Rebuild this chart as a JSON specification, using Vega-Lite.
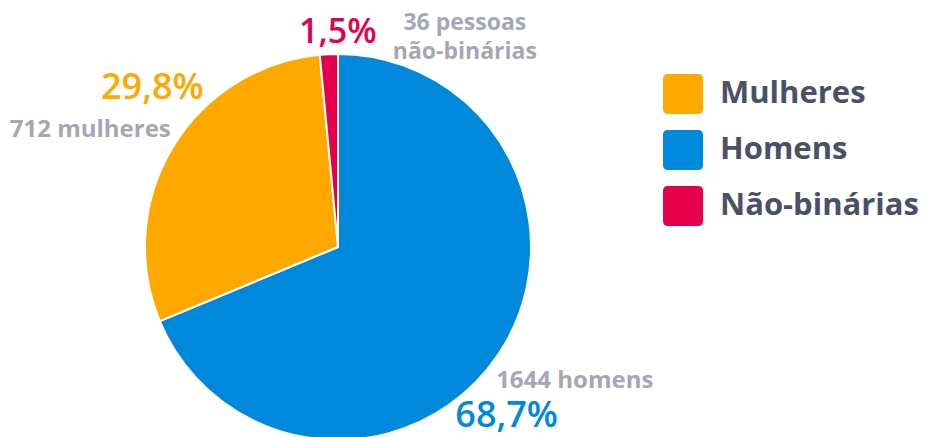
{
  "$schema": "https://vega.github.io/schema/vega-lite/v6.json",
  "autosize": {"type": "none"},
  "width": 676,
  "height": 380,
  "padding": {"left": 0, "top": 57, "right": 250, "bottom": 0},
  "background": "white",
  "config": {"view": {"stroke": null}},
  "data": {
    "values": [
      {"cat": "Homens", "n": 1644, "ord": 1, "pct": "68,7%", "label": "1644 homens"},
      {"cat": "Mulheres", "n": 712, "ord": 2, "pct": "29,8%", "label": "712 mulheres"},
      {"cat": "Não-binárias", "n": 36, "ord": 3, "pct": "1,5%", "label": "36 pessoas\nnão-binárias"}
    ]
  },
  "encoding": {
    "theta": {"field": "n", "type": "quantitative", "stack": true},
    "order": {"field": "ord", "type": "quantitative"}
  },
  "layer": [
    {
      "mark": {"type": "arc", "radius": 193, "stroke": "white", "strokeWidth": 2},
      "encoding": {
        "color": {
          "field": "cat",
          "type": "nominal",
          "scale": {"domain": ["Mulheres", "Homens", "Não-binárias"], "range": ["#FFA800", "#0088DD", "#E6004C"]},
          "legend": {
            "title": null,
            "orient": "none",
            "legendX": 663,
            "legendY": 17,
            "padding": 0,
            "symbolType": "M -0.75 -1 L 0.75 -1 Q 1 -1 1 -0.75 L 1 0.75 Q 1 1 0.75 1 L -0.75 1 Q -1 1 -1 0.75 L -1 -0.75 Q -1 -1 -0.75 -1 Z",
            "symbolSize": 1600,
            "symbolStrokeWidth": 0,
            "symbolOpacity": 1,
            "rowPadding": 16,
            "labelOffset": 17,
            "labelFont": "Open Sans",
            "labelFontSize": 31,
            "labelFontWeight": "bold",
            "labelColor": "#4B5066",
            "labelLimit": 400
          }
        }
      }
    },
    {
      "mark": {"type": "text", "radius": 240, "dx": -31, "dy": 36, "align": "center", "baseline": "middle", "font": "Open Sans", "fontSize": 36, "fontWeight": 600, "color": "#0088DD"},
      "encoding": {"text": {"condition": {"test": "datum.cat === 'Homens'", "field": "pct"}, "value": ""}}
    },
    {
      "mark": {"type": "text", "radius": 275, "dx": 8, "dy": -19, "align": "center", "baseline": "middle", "font": "Open Sans", "fontSize": 24, "fontWeight": "bold", "color": "#A5A7B3"},
      "encoding": {"text": {"condition": {"test": "datum.cat === 'Homens'", "field": "label"}, "value": ""}}
    },
    {
      "mark": {"type": "text", "radius": 240, "dx": 20, "dy": -35, "align": "center", "baseline": "middle", "font": "Open Sans", "fontSize": 36, "fontWeight": 600, "color": "#FFA800"},
      "encoding": {"text": {"condition": {"test": "datum.cat === 'Mulheres'", "field": "pct"}, "value": ""}}
    },
    {
      "mark": {"type": "text", "radius": 275, "dx": -12, "dy": 25, "align": "center", "baseline": "middle", "font": "Open Sans", "fontSize": 24, "fontWeight": "bold", "color": "#A5A7B3"},
      "encoding": {"text": {"condition": {"test": "datum.cat === 'Mulheres'", "field": "label"}, "value": ""}}
    },
    {
      "mark": {"type": "text", "radius": 215, "dx": 10, "dy": 1, "align": "center", "baseline": "middle", "font": "Open Sans", "fontSize": 34, "fontWeight": 600, "color": "#E6004C"},
      "encoding": {"text": {"condition": {"test": "datum.cat === 'Não-binárias'", "field": "pct"}, "value": ""}}
    },
    {
      "mark": {"type": "text", "radius": 215, "dx": 137, "dy": -9, "align": "center", "baseline": "middle", "lineBreak": "\n", "lineHeight": 29, "font": "Open Sans", "fontSize": 23, "fontWeight": "bold", "color": "#A5A7B3"},
      "encoding": {"text": {"condition": {"test": "datum.cat === 'Não-binárias'", "field": "label"}, "value": ""}}
    }
  ]
}
